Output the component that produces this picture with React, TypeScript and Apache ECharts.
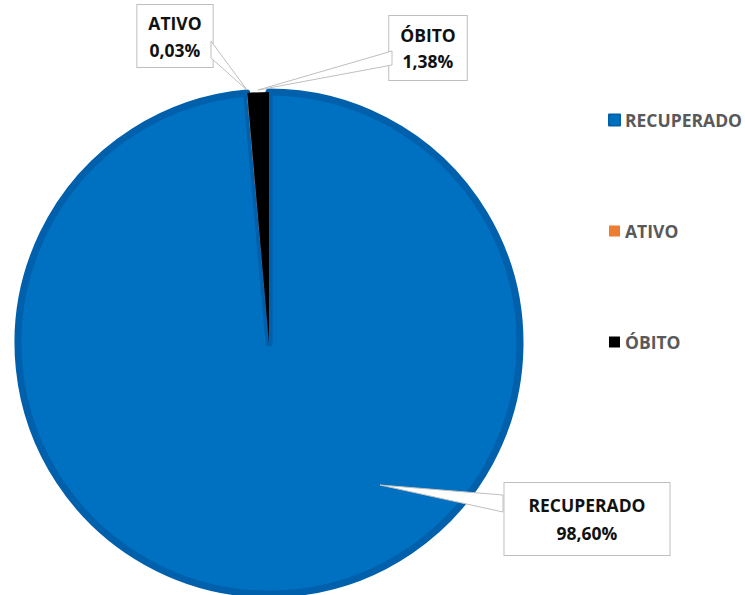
import React, { useEffect, useRef } from "react";
import * as echarts from "echarts";

const categories = ["RECUPERADO", "ATIVO", "ÓBITO"];
const values = [98.6, 0.03, 1.38];
const colors = ["#0070C0", "#ED7D31", "#000000"];
const borderColors = ["#0060AC", "#D06A25", "#000000"];

const FONT = "'Open Sans', 'Liberation Sans', sans-serif";

export default function App() {
  const ref = useRef<HTMLDivElement>(null);
  useEffect(() => {
    document.body.style.margin = "0";
    if (!ref.current) return;
    const chart = echarts.init(ref.current, undefined, { renderer: "svg" });

    const labelPos: Record<string, { c: number[]; pad: number[]; lh: number; wedge: number[][] }> = {
      RECUPERADO: { c: [587, 519], pad: [8, 24], lh: 28, wedge: [[380, 485], [503, 495], [503, 512]] },
      ATIVO: { c: [175, 36], pad: [4, 11], lh: 27, wedge: [[247, 90], [211, 41], [211, 58]] },
      "ÓBITO": { c: [428, 48], pad: [6, 11], lh: 26, wedge: [[258, 90], [392, 51], [392, 65]] },
    };

    const data = categories.map((name, i) => ({
      name,
      value: values[i],
      itemStyle: { color: colors[i], borderColor: borderColors[i], borderWidth: i === 0 ? 7 : 0 },
      label: { padding: labelPos[name].pad, lineHeight: labelPos[name].lh },
    }));

    const wedges = categories.map((name) => ({
      type: "polygon",
      z: 3,
      shape: { points: labelPos[name].wedge },
      style: { fill: "#ffffff", stroke: "#BFBFBF", lineWidth: 1 },
    }));

    chart.setOption({
      animation: false,
      backgroundColor: "#ffffff",
      graphic: { elements: wedges },
      legend: {
        orient: "vertical",
        left: 608,
        top: 111,
        padding: 0,
        itemWidth: 11,
        itemHeight: 11,
        itemGap: 93,
        icon: "rect",
        data: categories,
        textStyle: {
          fontFamily: FONT,
          fontWeight: "bold",
          fontSize: 17.5,
          lineHeight: 18,
          color: "#595959",
        },
      },
      series: [
        {
          type: "pie",
          z: 2,
          center: [269, 343],
          radius: [0, 251],
          startAngle: 90,
          clockwise: true,
          avoidLabelOverlap: false,
          data,
          label: {
            show: true,
            position: "outside",
            fontFamily: FONT,
            fontWeight: "bold",
            fontSize: 17.5,
            color: "#111111",
            align: "center",
            backgroundColor: "#ffffff",
            borderColor: "#BFBFBF",
            borderWidth: 1,
            formatter: (p: any) => `${p.name}\n${Number(p.value).toFixed(2).replace(".", ",")}%`,
          },
          labelLine: { show: false },
          labelLayout: (params: any) => {
            const name = categories[params.dataIndex];
            const lp = labelPos[name];
            return {
              x: lp.c[0],
              y: lp.c[1],
              align: "center",
              verticalAlign: "middle",
            };
          },
        },
      ],
    });
    return () => chart.dispose();
  }, []);
  return <div ref={ref} style={{ width: 745, height: 595 }} />;
}
